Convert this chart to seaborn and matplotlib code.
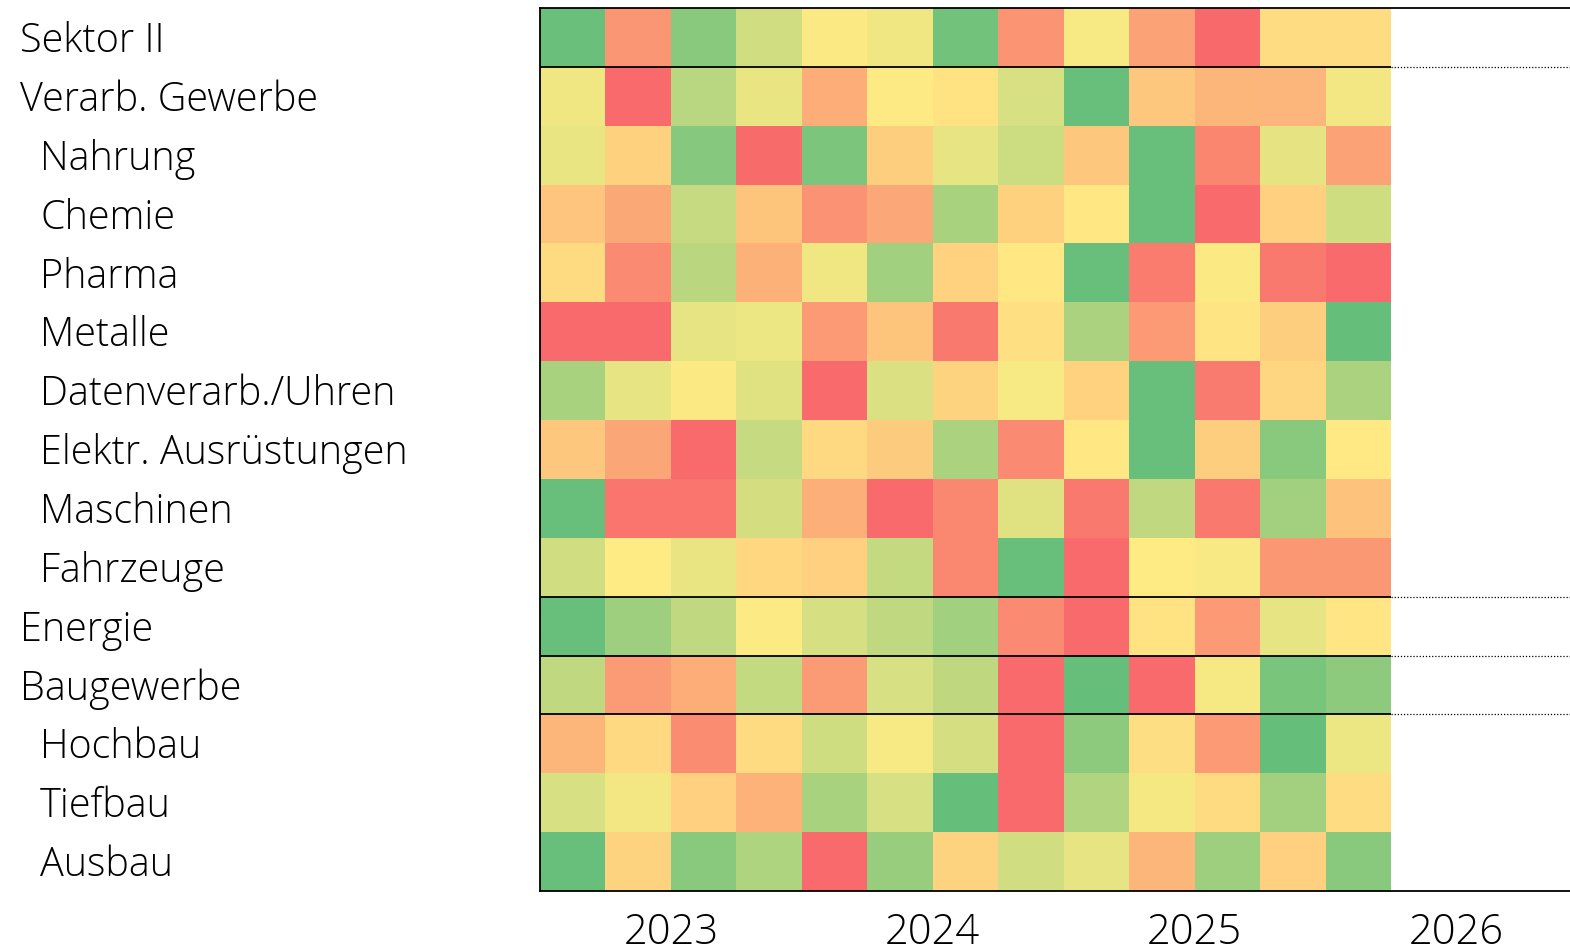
import numpy as np
import pandas as pd
import matplotlib
matplotlib.use("Agg")
import matplotlib.pyplot as plt
import seaborn as sns
from matplotlib.colors import LinearSegmentedColormap

# ---------------- data ----------------
rows = ["Sektor II", "Verarb. Gewerbe", "Nahrung", "Chemie", "Pharma", "Metalle",
        "Datenverarb./Uhren", "Elektr. Ausrüstungen", "Maschinen", "Fahrzeuge",
        "Energie", "Baugewerbe", "Hochbau", "Tiefbau", "Ausbau"]
indent = [0, 0, 1, 1, 1, 1, 1, 1, 1, 1, 0, 0, 1, 1, 1]
quarters = ["2023Q1", "2023Q2", "2023Q3", "2023Q4", "2024Q1", "2024Q2", "2024Q3", "2024Q4",
            "2025Q1", "2025Q2", "2025Q3", "2025Q4", "2026Q1", "2026Q2", "2026Q3", "2026Q4"]
years = ["2023", "2024", "2025", "2026"]

sektor_ii   = [0.95, -0.65, 0.76, 0.30, 0.03, 0.10, 0.90, -0.67, 0.05, -0.56, -1.00, -0.11, -0.11]
verarb      = [0.10, -0.99, 0.45, 0.14, -0.47, 0.01, -0.07, 0.25, 0.97, -0.28, -0.40, -0.41, 0.08]
nahrung     = [0.14, -0.20, 0.77, -0.98, 0.84, -0.22, 0.15, 0.33, -0.28, 0.97, -0.78, 0.17, -0.56]
chemie      = [-0.29, -0.51, 0.37, -0.30, -0.68, -0.52, 0.55, -0.20, -0.02, 0.97, -0.99, -0.21, 0.31]
pharma      = [-0.12, -0.75, 0.44, -0.44, 0.10, 0.60, -0.19, -0.02, 0.97, -0.85, 0.03, -0.87, -0.99]
metalle     = [-0.99, -0.99, 0.15, 0.12, -0.62, -0.30, -0.87, -0.09, 0.54, -0.62, -0.05, -0.22, 0.98]
datenverarb = [0.55, 0.15, 0.03, 0.20, -0.99, 0.23, -0.18, 0.05, -0.19, 0.97, -0.86, -0.17, 0.54]
elektr      = [-0.27, -0.53, -0.99, 0.37, -0.14, -0.25, 0.54, -0.75, -0.02, 0.97, -0.22, 0.76, -0.01]
maschinen   = [0.97, -0.90, -0.90, 0.28, -0.46, -0.99, -0.76, 0.20, -0.87, 0.40, -0.87, 0.59, -0.32]
fahrzeuge   = [0.30, 0.00, 0.14, -0.15, -0.21, 0.38, -0.76, 0.97, -0.99, 0.00, 0.04, -0.64, -0.64]
energie     = [0.97, 0.62, 0.40, 0.02, 0.26, 0.40, 0.60, -0.75, -0.99, -0.06, -0.62, 0.15, -0.04]
baugewerbe  = [0.40, -0.61, -0.47, 0.38, -0.61, 0.25, 0.41, -0.99, 0.98, -0.99, 0.06, 0.85, 0.73]
hochbau     = [-0.40, -0.14, -0.73, -0.12, 0.31, 0.05, 0.27, -0.99, 0.73, -0.10, -0.62, 0.98, 0.12]
tiefbau     = [0.25, 0.08, -0.21, -0.43, 0.55, 0.25, 0.98, -0.99, 0.50, 0.07, -0.12, 0.59, -0.11]
ausbau      = [0.97, -0.18, 0.76, 0.52, -0.99, 0.66, -0.18, 0.30, 0.15, -0.40, 0.62, -0.21, 0.76]

series = [sektor_ii, verarb, nahrung, chemie, pharma, metalle, datenverarb, elektr,
          maschinen, fahrzeuge, energie, baugewerbe, hochbau, tiefbau, ausbau]

# ---------------- build table ----------------
n_cols = len(quarters)
mat = np.full((len(rows), n_cols), np.nan)
for i, s in enumerate(series):
    mat[i, :len(s)] = s
df = pd.DataFrame(mat, index=rows, columns=quarters)
n_filled = len(sektor_ii)

W, H = 1570, 947
fig = plt.figure(figsize=(W / 100, H / 100), dpi=100)
left_px, top_px, bottom_px = 540, 8, 891
col_w = (1391 - 540) / 13.0
ax = fig.add_axes([left_px / W, (H - bottom_px) / H, col_w * n_cols / W, (bottom_px - top_px) / H])

cmap = LinearSegmentedColormap.from_list("excel3", ["#F8696B", "#FFEB84", "#63BE7B"])
sns.heatmap(df, ax=ax, cmap=cmap, vmin=-1, vmax=1, cbar=False,
            xticklabels=False, yticklabels=False)

# spines
for side in ["top", "bottom", "left"]:
    ax.spines[side].set_visible(True)
    ax.spines[side].set_color("black")
    ax.spines[side].set_linewidth(1.3)
ax.spines["right"].set_visible(False)

# group separators
for b in [1, 10, 11, 12]:
    ax.hlines(b, 0, n_filled, colors="black", linewidth=1.3)
    ax.hlines(b, n_filled, n_cols, colors="black", linewidth=0.9, linestyles=(0, (1, 1.5)))

# year ticks
ax.set_xticks([2, 6, 10, 14])
ax.set_xticklabels(years, fontsize=30, family=["Open Sans", "DejaVu Sans"], fontweight="light")
ax.tick_params(axis="x", length=0, pad=15)
ax.tick_params(axis="y", length=0)
ax.set_xlabel("")
ax.set_ylabel("")

# row labels (left-aligned, sub-rows indented)
trans = ax.get_yaxis_transform()
for i, (name, ind) in enumerate(zip(rows, indent)):
    x_px = 20 + 20 * ind
    ax.text((x_px - left_px) / (col_w * n_cols), i + 0.57, name, transform=trans,
            ha="left", va="center", fontsize=28.5, fontweight="light",
            family=["Open Sans", "DejaVu Sans"], clip_on=False)

fig.savefig("out.png", dpi=100)
